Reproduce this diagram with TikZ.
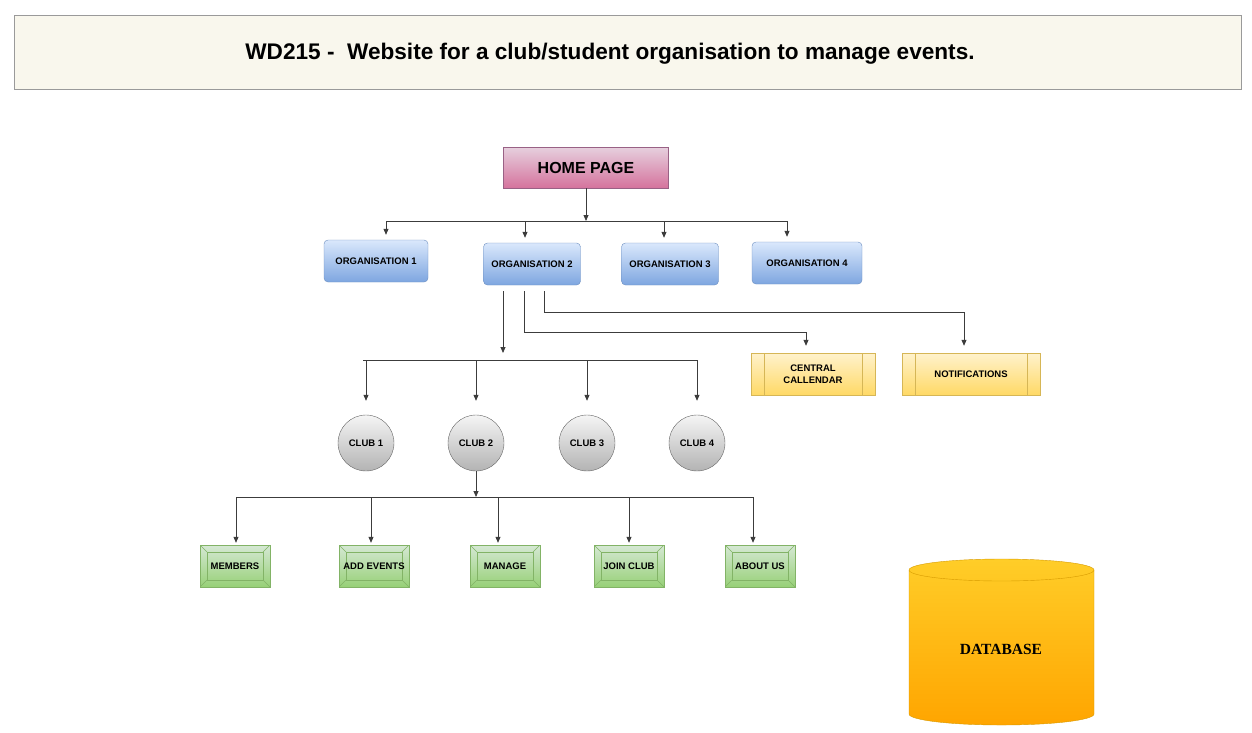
\documentclass[tikz,border=0pt]{standalone}
\usepackage{fontspec}
\setmainfont{Liberation Sans}
\newfontfamily\dbserif{Liberation Serif}
\usetikzlibrary{arrows.meta}

\definecolor{titlefill}{HTML}{F9F7ED}
\definecolor{titleline}{HTML}{9A9A9A}
\definecolor{homefill}{HTML}{E6D0DE}
\definecolor{homeshade}{HTML}{D5739D}
\definecolor{homeline}{HTML}{996185}
\definecolor{orgfill}{HTML}{DAE8FC}
\definecolor{orgshade}{HTML}{7EA6E0}
\definecolor{orgline}{HTML}{6C8EBF}
\definecolor{sidefill}{HTML}{FFF2CC}
\definecolor{sideshade}{HTML}{FFD966}
\definecolor{sideline}{HTML}{D6B656}
\definecolor{clubfill}{HTML}{F5F5F5}
\definecolor{clubshade}{HTML}{B3B3B3}
\definecolor{clubline}{HTML}{666666}
\definecolor{pagefill}{HTML}{D5E8D4}
\definecolor{pageshade}{HTML}{97D077}
\definecolor{pageline}{HTML}{82B366}
\definecolor{dbfill}{HTML}{FFCD28}
\definecolor{dbshade}{HTML}{FFA500}
\definecolor{dbline}{HTML}{D79B00}
\definecolor{linkgray}{HTML}{3C3C3C}

\begin{document}
\begin{tikzpicture}[
  x = 1pt, y = -1pt,
  every node/.style = {font = \fontsize{9.5}{12}\selectfont\bfseries, inner sep = 0pt, align = center},
  wire/.style = {draw = linkgray, line width = 0.8pt},
  link/.style = {wire, -{Triangle[length = 6pt, width = 5pt]}},
  titlebox/.style = {draw = titleline, fill = titlefill, minimum width = 1227pt, minimum height = 74pt},
  homebox/.style = {draw = homeline, top color = homefill, bottom color = homeshade,
                    minimum width = 165pt, minimum height = 41pt, font = \fontsize{16}{19}\selectfont\bfseries},
  orgbox/.style = {draw = orgline, top color = orgfill, bottom color = orgshade,
                   rounded corners = 4pt, minimum height = 42pt},
  sidebox/.style = {draw = sideline, top color = sidefill, bottom color = sideshade, minimum height = 42pt,
                    path picture = {
                      \draw[sideline] ([xshift = 13pt]path picture bounding box.north west)
                                   -- ([xshift = 13pt]path picture bounding box.south west)
                                      ([xshift = -13pt]path picture bounding box.north east)
                                   -- ([xshift = -13pt]path picture bounding box.south east);
                    }},
  clubnode/.style = {circle, draw = clubline, top color = clubfill, bottom color = clubshade, minimum size = 56pt},
  pagebox/.style = {draw = pageline, top color = pagefill, bottom color = pageshade,
                    minimum width = 70pt, minimum height = 42pt,
                    path picture = {
                      \draw[pageline] ([shift = {(7pt,-7pt)}]path picture bounding box.north west)
                              rectangle ([shift = {(-7pt,7pt)}]path picture bounding box.south east);
                      \draw[pageline] (path picture bounding box.north west) -- ++(7pt,-7pt)
                                      (path picture bounding box.north east) -- ++(-7pt,-7pt)
                                      (path picture bounding box.south west) -- ++(7pt,7pt)
                                      (path picture bounding box.south east) -- ++(-7pt,7pt);
                    }},
  ]
  \useasboundingbox (0,0) rectangle (1252,732);

  % title
  \node (title) [titlebox] at (627.5,52) {};
  \node (titletext) [font = \fontsize{22.6}{27}\selectfont\bfseries] at (610,54)
    {WD215 -\ \ Website for a club/student organisation to manage events.};

  % home page and organisations
  \node (home) [homebox] at (586,167.5) {HOME PAGE};
  \node (org1) [orgbox, minimum width = 104pt] at (376,261) {ORGANISATION 1};
  \node (org2) [orgbox, minimum width = 97pt]  at (532,264) {ORGANISATION 2};
  \node (org3) [orgbox, minimum width = 97pt]  at (670,264) {ORGANISATION 3};
  \node (org4) [orgbox, minimum width = 110pt] at (807,263) {ORGANISATION 4};

  \coordinate (obus) at (586,221);
  \draw[link] (home) -- (obus);
  \foreach \i/\x in {1/386, 2/525, 3/664, 4/787}
    \coordinate (ob\i) at (\x,221);
  \draw[wire] (ob1) -- (ob4);
  \foreach \i in {1,...,4}
    \draw[link, shorten > = 5pt] (ob\i) -- (ob\i |- org\i.north);

  % calendar and notifications
  \node (cal)   [sidebox, minimum width = 124pt] at (813,374) {CENTRAL\\CALLENDAR};
  \node (notif) [sidebox, minimum width = 138pt] at (971,374) {NOTIFICATIONS};
  \coordinate (calturn) at (524,332);
  \coordinate (notturn) at (544,312);
  \draw[link, shorten < = 6pt, shorten > = 7pt] (org2.south -| calturn) -- (calturn) -| ([xshift = -7pt]cal.north);
  \draw[link, shorten < = 6pt, shorten > = 7pt] (org2.south -| notturn) -- (notturn) -| ([xshift = -7pt]notif.north);

  % clubs
  \coordinate (cbus) at (503,360);
  \draw[link, shorten < = 6pt, shorten > = 7pt] (org2.south -| cbus) -- (cbus);
  \foreach \i/\x in {1/366, 2/476, 3/587, 4/697} {
    \coordinate (cb\i) at (\x,360);
    \node (club\i) [clubnode] at (\x,443) {CLUB \i};
  }
  \draw[wire] ([xshift = -3pt]cb1) -- (cb4);
  \foreach \i in {1,...,4}
    \draw[link, shorten > = 14pt] (cb\i) -- (club\i.north);

  % club pages
  \coordinate (pbus) at (476,497);
  \draw[link] (club2) -- (pbus);
  \foreach \i/\x/\c/\t in {1/236/235/MEMBERS, 2/371/374/ADD EVENTS, 3/498/505/MANAGE,
                           4/629/629/JOIN CLUB, 5/753/760/ABOUT US} {
    \coordinate (pb\i) at (\x,497);
    \node (page\i) [pagebox] at (\c,566) {\t};
  }
  \draw[wire] (pb1) -- (pb5);
  \foreach \i in {1,...,5}
    \draw[link, shorten > = 2pt] (pb\i) -- (pb\i |- page\i.north);

  % database
  \shade[top color = dbfill, bottom color = dbshade, draw = dbline]
    (909,570) -- (909,714) arc[start angle = 180, end angle = 360, x radius = 92.5pt, y radius = 11pt]
    -- (1094,570) arc[start angle = 0, end angle = 180, x radius = 92.5pt, y radius = 11pt] -- cycle;
  \draw[dbline] (909,570) arc[start angle = 180, end angle = 360, x radius = 92.5pt, y radius = 11pt];
  \node (db) [font = \dbserif\fontsize{15.5}{18}\selectfont\bfseries] at (1001,649) {DATABASE};
\end{tikzpicture}
\end{document}
